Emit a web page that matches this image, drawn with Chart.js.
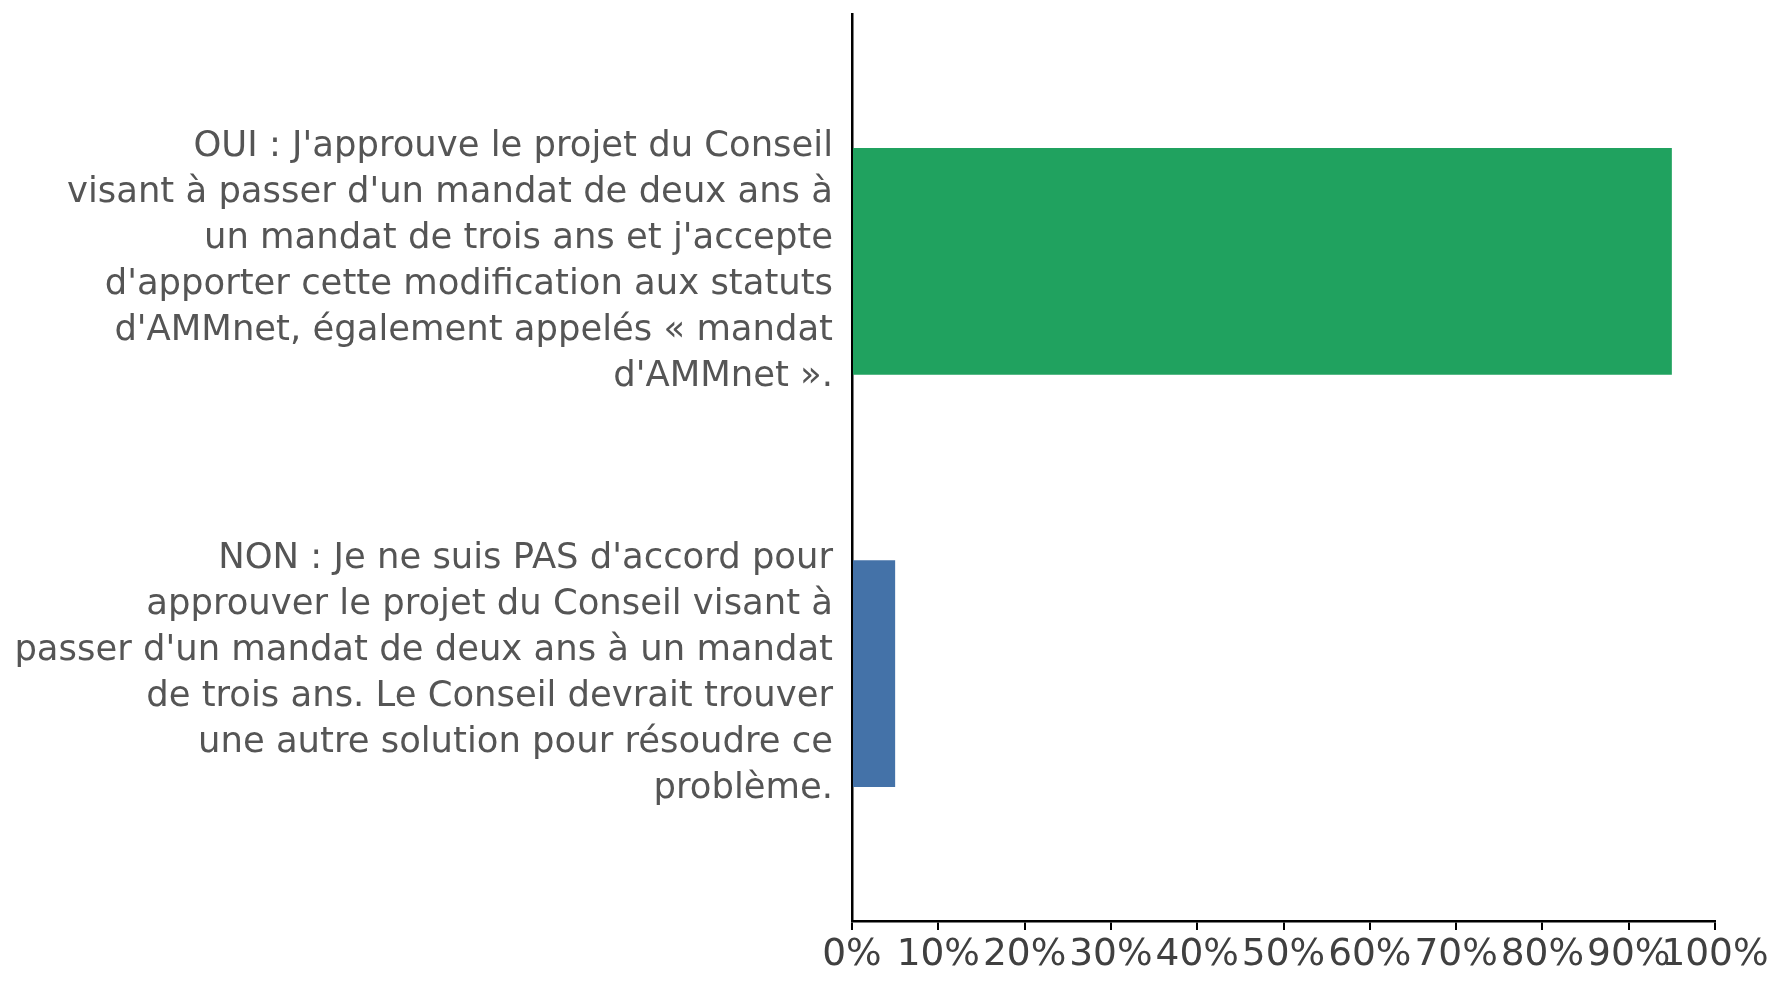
<!DOCTYPE html>
<html>
<head>
<meta charset="utf-8">
<script src="https://cdn.jsdelivr.net/npm/chart.js@4"></script>
<style>
    html, body { margin: 0; padding: 0; background: #fff; }
    #chart { display: block; }
</style>
</head>
<body>
<canvas id="chart" width="1782" height="990"></canvas>
<script>
var answerLabels = [
    ["OUI : J'approuve le projet du Conseil",
     "visant à passer d'un mandat de deux ans à",
     "un mandat de trois ans et j'accepte",
     "d'apporter cette modification aux statuts",
     "d'AMMnet, également appelés « mandat",
     "d'AMMnet »."],
    ["NON : Je ne suis PAS d'accord pour",
     "approuver le projet du Conseil visant à",
     "passer d'un mandat de deux ans à un mandat",
     "de trois ans. Le Conseil devrait trouver",
     "une autre solution pour résoudre ce",
     "problème."]
];
var answerShares = [95, 5];
var barColours = ['#20a25f', '#4472a8'];
var xTicks = [0, 10, 20, 30, 40, 50, 60, 70, 80, 90, 100];

var points = answerShares.map(function (v, i) { return { x: v, y: i }; });

var chart = new Chart(document.getElementById('chart'), {
    type: 'bar',
    data: {
        datasets: [{
            data: points,
            backgroundColor: barColours,
            borderWidth: 0,
            categoryPercentage: 1,
            barPercentage: 0.55,
        }]
    },
    options: {
        indexAxis: 'y',
        responsive: false,
        devicePixelRatio: 1,
        animation: false,
        layout: {
            padding: { top: 14, right: 67, left: 0, bottom: 0 }
        },
        plugins: {
            legend: { display: false },
            tooltip: { enabled: false }
        },
        scales: {
            y: {
                type: 'linear',
                reverse: true,
                offset: false,
                min: -0.6,
                max: 1.6,
                afterBuildTicks: function (scale) {
                    scale.ticks = answerLabels.map(function (l, i) { return { value: i }; });
                },
                afterFit: function (scale) {
                    scale.width = 852;
                    scale.paddingTop = 0;
                    scale.paddingBottom = 0;
                },
                grid: { display: false },
                border: { display: true, color: '#000', width: 2.5 },
                ticks: {
                    padding: 11,
                    color: '#555555',
                    font: { family: 'DejaVu Sans', size: 35.4, lineHeight: 1.3 },
                    callback: function (value) { return answerLabels[value]; }
                }
            },
            x: {
                type: 'linear',
                min: 0,
                max: 100,
                afterBuildTicks: function (scale) {
                    scale.ticks = xTicks.map(function (v) { return { value: v }; });
                },
                afterFit: function (scale) {
                    scale.height = 69;
                    scale.paddingLeft = 0;
                    scale.paddingRight = 0;
                },
                grid: {
                    drawOnChartArea: false,
                    drawTicks: true,
                    tickLength: 9,
                    color: '#000',
                    lineWidth: 2
                },
                border: { display: true, color: '#000', width: 2.5 },
                ticks: {
                    padding: 3,
                    maxRotation: 0,
                    autoSkip: false,
                    color: '#404040',
                    font: { family: 'DejaVu Sans', size: 37.5 },
                    callback: function (value) { return value + '%'; }
                }
            }
        }
    }
});
</script>
</body>
</html>
